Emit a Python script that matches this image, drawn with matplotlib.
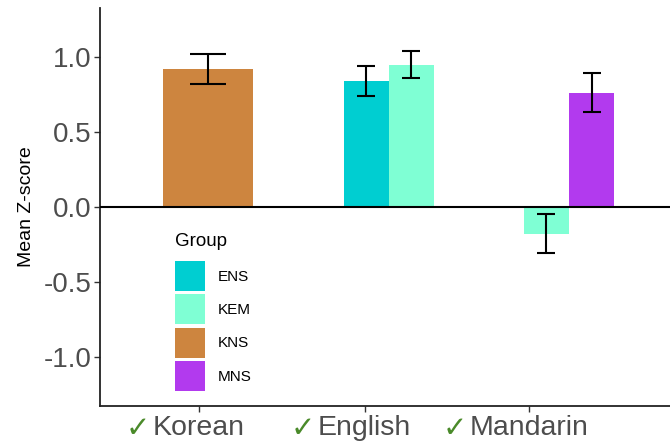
import matplotlib
matplotlib.use("Agg")
import matplotlib.pyplot as plt
from matplotlib.patches import Patch

FONT = ["Liberation Sans", "DejaVu Sans"]
plt.rcParams["font.family"] = FONT

# ---- data ----
languages = ["Korean", "English", "Mandarin"]
# groups tested within each language block
lang_groups = [["KNS"], ["ENS", "KEM"], ["KEM", "MNS"]]
lang_means = [[0.92], [0.84, 0.945], [-0.18, 0.76]]
lang_errs = [[0.10], [0.10, 0.09], [0.13, 0.13]]

group_names = ["ENS", "KEM", "KNS", "MNS"]
group_colors = {"ENS": "#00CED1", "KEM": "#7FFFD4", "KNS": "#CD853F", "MNS": "#B23AEE"}
yticks = [-1.0, -0.5, 0.0, 0.5, 1.0]

# ---- layout ----
W, H, DPI = 670, 444, 100
fig = plt.figure(figsize=(W / DPI, H / DPI), dpi=DPI)
ax = fig.add_axes([100 / W, (444 - 405.7) / H, 1 - 100 / W, (405.7 - 8.3) / H])

dodge_total = 0.5
for i, (grps, means, errs) in enumerate(zip(lang_groups, lang_means, lang_errs)):
    center = i + 1
    n = len(grps)
    w = dodge_total / n
    for j, (g, m, e) in enumerate(zip(grps, means, errs)):
        x = center - dodge_total / 2 + w * (j + 0.5)
        ax.bar(x, m, width=w, color=group_colors[g], edgecolor="none", zorder=2)
        cap = 0.4 * w / 2
        ax.vlines(x, m - e, m + e, color="black", lw=1.5, zorder=4)
        ax.hlines([m - e, m + e], x - cap, x + cap, color="black", lw=1.5, zorder=4)

ax.axhline(0, color="black", lw=1.5, zorder=3)

ax.set_xlim(0.4, 3.56)
ax.set_ylim(-1.327, 1.323)

# category tick positions along the bar axis
tick_pos = [0.947, 1.867, 2.781]
ax.set_xticks(tick_pos)
ax.set_xticklabels(languages, fontsize=20.5, color="#4D4D4D")
ax.set_yticks(yticks)
ax.set_yticklabels([f"{v:.1f}" for v in yticks], fontsize=20, color="#4D4D4D")
ax.tick_params(axis="both", length=4, width=1, color="#333333", pad=2)
ax.tick_params(axis="x", pad=3)

for s in ["top", "right"]:
    ax.spines[s].set_visible(False)
for s in ["left", "bottom"]:
    ax.spines[s].set_linewidth(1.3)
    ax.spines[s].set_color("#222222")

ax.set_ylabel("Mean Z-score", fontsize=14, color="black", labelpad=6)

# legend
handles = [Patch(facecolor=group_colors[g], edgecolor="none") for g in group_names]
leg = ax.legend(handles, group_names, title="Group", loc="upper left",
                bbox_to_anchor=(175 / W, 1 - 233 / H), bbox_transform=fig.transFigure,
                frameon=False, fontsize=11, title_fontsize=13.5,
                handlelength=1.96, handleheight=2.64, labelspacing=0.22,
                handletextpad=0.87, borderpad=0, borderaxespad=0,
                alignment="left")
leg._legend_box.sep = 8

# green check marks in front of each category label
fig.canvas.draw()
renderer = fig.canvas.get_renderer()
for lab in ax.get_xticklabels():
    bb = lab.get_window_extent(renderer)
    fig.text((bb.x0 - 3) / W, (bb.y0 + bb.y1) / 2 / H - 0.002, "\u2713",
             fontsize=21, color="#4A8A2A", ha="right", va="center",
             family=["DejaVu Sans"])

fig.savefig("out.png", dpi=DPI)
